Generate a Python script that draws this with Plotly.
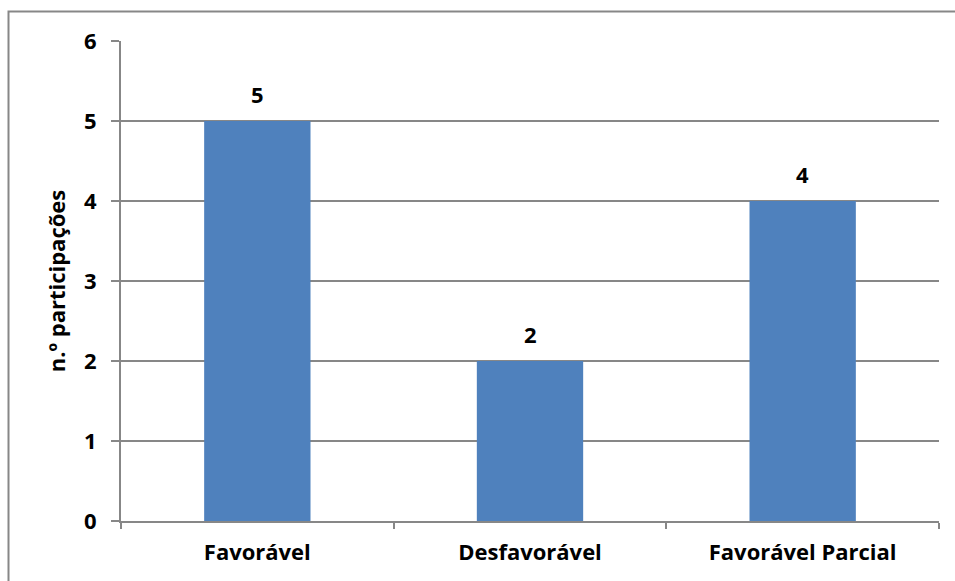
import plotly.graph_objects as go

categories = ["Favorável", "Desfavorável", "Favorável Parcial"]
values = [5, 2, 4]
y_ticks = [0, 1, 2, 3, 4, 5, 6]

FONT = "'Open Sans', Lato, sans-serif"
GRAY = "#878787"

fig = go.Figure()
fig.add_trace(go.Bar(
    x=categories, y=values,
    marker=dict(color="#4F81BD", line=dict(width=0)),
    width=0.39,
    hoverinfo="skip",
))

for c, v in zip(categories, values):
    fig.add_annotation(x=c, y=v, text=f"<b>{v}</b>", showarrow=False,
                       yanchor="middle", yshift=27,
                       font=dict(family=FONT, size=22, color="black"))

fig.update_layout(
    width=955, height=581,
    margin=dict(l=121, r=16, t=41, b=60),
    paper_bgcolor="white", plot_bgcolor="white",
    showlegend=False,
    font=dict(family=FONT, size=21, color="black"),
    shapes=[dict(type="rect", xref="paper", yref="paper",
                 x0=(8.5 - 121) / 818, x1=1.2,
                 y0=-0.3, y1=1 + (41 - 11.5) / 480,
                 line=dict(color=GRAY, width=2), fillcolor="rgba(0,0,0,0)",
                 layer="below")],
)
fig.update_xaxes(
    showline=True, linecolor=GRAY, linewidth=2,
    ticks="outside", tickson="boundaries", ticklen=6, tickcolor=GRAY, tickwidth=2,
    tickvals=categories, ticktext=[f"<b>{c}</b>" for c in categories],
    tickfont=dict(family=FONT, size=22, color="black"),
    ticklabelstandoff=11,
    showgrid=False,
)
fig.update_yaxes(
    range=[0, 6], tickvals=y_ticks, ticktext=[f"<b>{t}</b>" for t in y_ticks],
    showline=True, linecolor=GRAY, linewidth=2,
    ticks="outside", ticklen=8, tickcolor=GRAY, tickwidth=2,
    showgrid=True, gridcolor=GRAY, gridwidth=2,
    zeroline=False,
    tickfont=dict(family=FONT, size=22, color="black"),
    ticklabelstandoff=10,
    title=dict(text="<b>n.º participações</b>", standoff=12,
               font=dict(family=FONT, size=22, color="black")),
)

fig.write_html("out.html")
